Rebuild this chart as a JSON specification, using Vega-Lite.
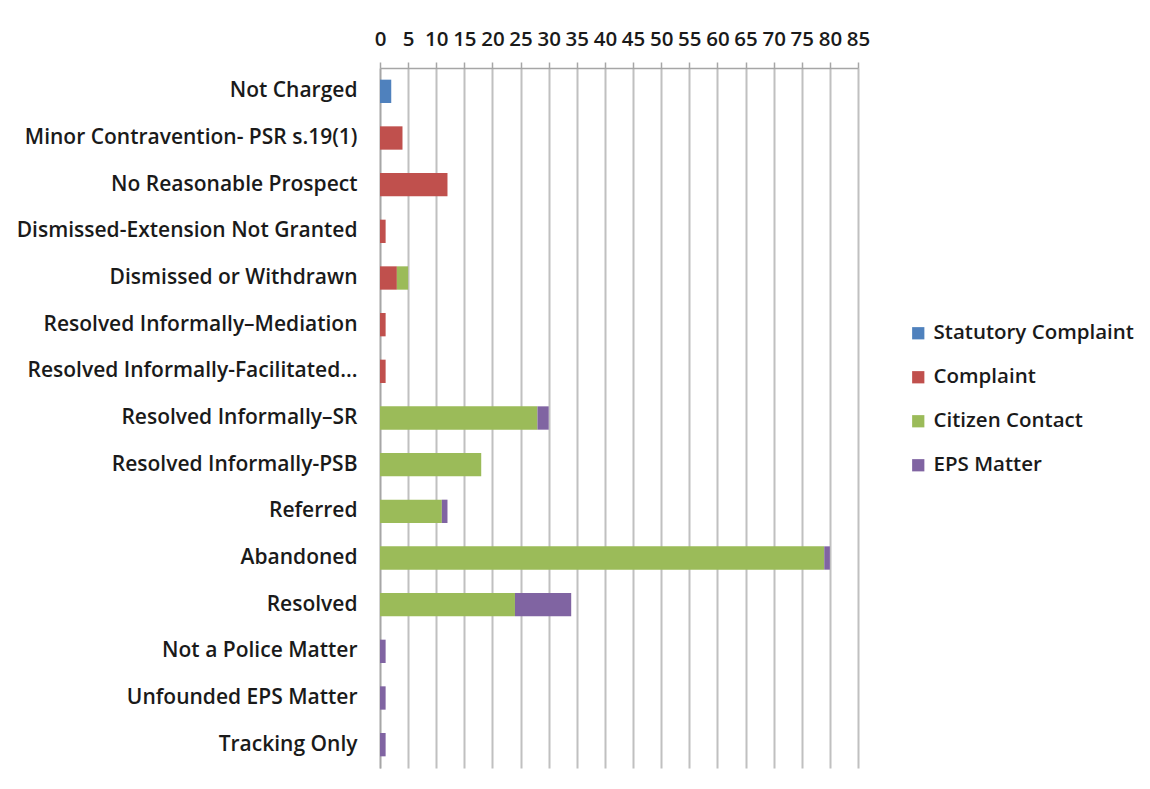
{
  "$schema": "https://vega.github.io/schema/vega-lite/v6.json",
  "autosize": {"type": "none"},
  "padding": {"left": 380, "top": 68, "right": 292, "bottom": 21},
  "width": 478,
  "height": 700,
  "background": "white",
  "data": {
    "values": [
      {"category": "Not Charged", "series": "Statutory Complaint", "s": 1, "value": 2},
      {"category": "Minor Contravention- PSR s.19(1)", "series": "Complaint", "s": 2, "value": 4},
      {"category": "No Reasonable Prospect", "series": "Complaint", "s": 2, "value": 12},
      {"category": "Dismissed-Extension Not Granted", "series": "Complaint", "s": 2, "value": 1},
      {"category": "Dismissed or Withdrawn", "series": "Complaint", "s": 2, "value": 3},
      {"category": "Dismissed or Withdrawn", "series": "Citizen Contact", "s": 3, "value": 2},
      {"category": "Resolved Informally–Mediation", "series": "Complaint", "s": 2, "value": 1},
      {"category": "Resolved Informally-Facilitated...", "series": "Complaint", "s": 2, "value": 1},
      {"category": "Resolved Informally–SR", "series": "Citizen Contact", "s": 3, "value": 28},
      {"category": "Resolved Informally–SR", "series": "EPS Matter", "s": 4, "value": 2},
      {"category": "Resolved Informally-PSB", "series": "Citizen Contact", "s": 3, "value": 18},
      {"category": "Referred", "series": "Citizen Contact", "s": 3, "value": 11},
      {"category": "Referred", "series": "EPS Matter", "s": 4, "value": 1},
      {"category": "Abandoned", "series": "Citizen Contact", "s": 3, "value": 79},
      {"category": "Abandoned", "series": "EPS Matter", "s": 4, "value": 1},
      {"category": "Resolved", "series": "Citizen Contact", "s": 3, "value": 24},
      {"category": "Resolved", "series": "EPS Matter", "s": 4, "value": 10},
      {"category": "Not a Police Matter", "series": "EPS Matter", "s": 4, "value": 1},
      {"category": "Unfounded EPS Matter", "series": "EPS Matter", "s": 4, "value": 1},
      {"category": "Tracking Only", "series": "EPS Matter", "s": 4, "value": 1}
    ]
  },
  "mark": {"type": "bar"},
  "encoding": {
    "y": {
      "field": "category",
      "type": "nominal",
      "sort": [
        "Not Charged",
        "Minor Contravention- PSR s.19(1)",
        "No Reasonable Prospect",
        "Dismissed-Extension Not Granted",
        "Dismissed or Withdrawn",
        "Resolved Informally–Mediation",
        "Resolved Informally-Facilitated...",
        "Resolved Informally–SR",
        "Resolved Informally-PSB",
        "Referred",
        "Abandoned",
        "Resolved",
        "Not a Police Matter",
        "Unfounded EPS Matter",
        "Tracking Only"
      ],
      "scale": {"paddingInner": 0.5, "paddingOuter": 0.25},
      "axis": {
        "title": null,
        "ticks": false,
        "labelPadding": 23,
        "labelFont": "Open Sans",
        "labelFontSize": 21,
        "labelFontWeight": 600,
        "labelColor": "#1a1a1a",
        "labelLimit": 400,
        "domainColor": "#a6a6a6",
        "domainWidth": 1.5
      }
    },
    "x": {
      "field": "value",
      "type": "quantitative",
      "stack": "zero",
      "scale": {"domain": [0, 85], "nice": false},
      "axis": {
        "orient": "top",
        "title": null,
        "values": [0, 5, 10, 15, 20, 25, 30, 35, 40, 45, 50, 55, 60, 65, 70, 75, 80, 85],
        "labelFont": "Open Sans",
        "labelFontSize": 20.5,
        "labelFontWeight": 600,
        "labelColor": "#1a1a1a",
        "labelPadding": 13,
        "labelOverlap": false,
        "labelFlush": false,
        "tickSize": 6,
        "tickColor": "#a6a6a6",
        "tickWidth": 1.5,
        "domainColor": "#a6a6a6",
        "domainWidth": 1.5,
        "grid": true,
        "gridColor": "#c0c0c0",
        "gridWidth": 2
      }
    },
    "color": {
      "field": "series",
      "type": "nominal",
      "scale": {
        "domain": ["Statutory Complaint", "Complaint", "Citizen Contact", "EPS Matter"],
        "range": ["#4f81bd", "#c0504d", "#9bbb59", "#8064a2"]
      },
      "legend": {
        "title": null,
        "orient": "none",
        "legendX": 528,
        "legendY": 255,
        "padding": 0,
        "symbolType": "square",
        "symbolSize": 150,
        "symbolStrokeWidth": 0,
        "labelFont": "Open Sans",
        "labelFontSize": 20.5,
        "labelFontWeight": 600,
        "labelColor": "#1a1a1a",
        "rowPadding": 23,
        "labelOffset": 5,
        "labelLimit": 300
      }
    },
    "order": {"field": "s", "type": "quantitative"}
  },
  "config": {"view": {"stroke": null}}
}
